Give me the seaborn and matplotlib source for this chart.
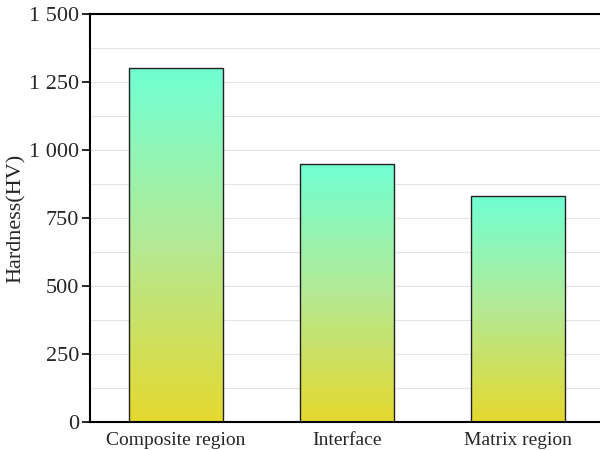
import matplotlib
matplotlib.use("Agg")
import matplotlib.pyplot as plt
import matplotlib.ticker as mticker
from matplotlib.colors import LinearSegmentedColormap
import seaborn as sns
import numpy as np
import pandas as pd

# ==============================
# Data
# ==============================
regions = ["Composite region", "Interface", "Matrix region"]
hardness = [1300, 950, 830]
y_ticks = [0, 250, 500, 750, 1000, 1250, 1500]

df = pd.DataFrame({"region": regions, "hardness": hardness})

sns.set_theme(style="white")
plt.rcParams["font.family"] = ["Liberation Serif", "DejaVu Serif"]

fig = plt.figure(figsize=(6, 4.5), dpi=100)
ax = fig.add_axes([0.15, 0.062, 0.856, 0.907])

sns.barplot(data=df, x="region", y="hardness", width=0.55,
            color="white", edgecolor="#222222", linewidth=1.0, ax=ax, zorder=3)

# gradient fill inside each bar (yellow at bottom -> aquamarine at top)
cmap = LinearSegmentedColormap.from_list("yg", ["#e5d92f", "#b4e994", "#70ffd3"])
grad = np.linspace(0, 1, 256).reshape(-1, 1)
for patch in ax.patches:
    x0, y0 = patch.get_x(), patch.get_y()
    w, h = patch.get_width(), patch.get_height()
    im = ax.imshow(grad, extent=[x0, x0 + w, y0, y0 + h], origin="lower",
                   cmap=cmap, aspect="auto", zorder=2.5)
    im.set_clip_path(patch)
    patch.set_facecolor("none")

ax.set_xlim(-0.5, 2.5)
ax.set_ylim(0, 1500)
ax.set_yticks(y_ticks)
ax.yaxis.set_major_formatter(mticker.FuncFormatter(lambda v, p: f"{int(v):,}".replace(",", " ")))
ax.yaxis.set_minor_locator(mticker.MultipleLocator(125))
ax.grid(axis="y", which="both", color="#e4e4e4", linewidth=0.8, zorder=0)
ax.set_axisbelow(True)

for s in ["left", "bottom", "top"]:
    ax.spines[s].set_visible(True)
    ax.spines[s].set_color("black")
    ax.spines[s].set_linewidth(1.5)
ax.spines["right"].set_visible(False)

ax.tick_params(axis="y", which="major", left=True, length=6, width=1.2,
               labelsize=16, color="black", pad=2)
ax.tick_params(axis="y", which="minor", left=False)
ax.tick_params(axis="x", bottom=False, labelsize=14, pad=1)

ax.set_xlabel("")
ax.set_ylabel("Hardness(HV)", fontsize=16, labelpad=2)

fig.savefig("out.png", dpi=100)
